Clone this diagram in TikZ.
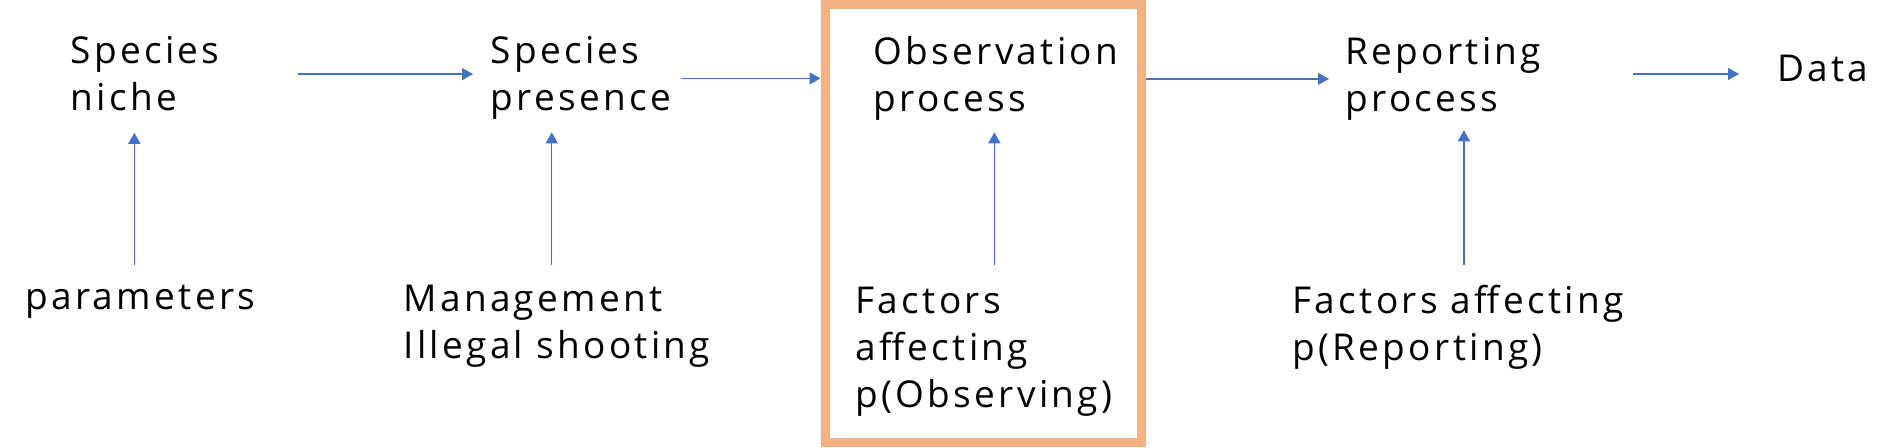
\documentclass[tikz,border=0pt]{standalone}
\usepackage{fontspec}
\setmainfont{Open Sans}[LetterSpace=9]
\usepackage{tikz}
\usetikzlibrary{arrows.meta}
\definecolor{flowblue}{HTML}{4472C4}
\definecolor{boxorange}{HTML}{F4B183}
\hyphenpenalty=10000
\exhyphenpenalty=10000

\begin{document}
\begin{tikzpicture}[x=0.5pt,y=-0.5pt,
    lbl/.style={inner sep=0pt, anchor=base west, align=left, font=\fontsize{18.5}{23.5}\selectfont},
    flow/.style={draw=flowblue, line width=0.65pt, -{Triangle[length=5.5pt,width=6pt]}}]
        \useasboundingbox (0,0) rectangle (1903,448);
        \node[draw=boxorange, line width=4.5pt, minimum width=158.25pt, minimum height=219.25pt, inner sep=0pt] (obsbox) at (983.25,223.75) {};
        \node[lbl, text width=74pt] (niche) at (70,64) {Species\\niche};
        \node[lbl, text width=89pt] (presence) at (490,64) {Species\\presence};
        \node[lbl, text width=123pt] (obs) at (873,65) {Observation\\process};
        \node[lbl, text width=99.5pt] (reporting) at (1345,65) {Reporting\\process};
        \node[lbl, text width=46pt, text height=8pt, text depth=0pt] (data) at (1777,82) {Data};
        \node[lbl] (params) at (25,310) {parameters};
        \node[lbl] (mgmt) at (403,359) {Management\\Illegal shooting};
        \node[lbl] (obsf) at (855,408) {Factors\\affecting\\p(Observing)};
        \node[lbl] (repf) at (1292,361) {Factors affecting\\p(Reporting)};
        \draw[flow, shorten <=39.5pt, shorten >=8.5pt] (niche.east) -- (niche.east -| presence.west);
        \draw[flow, shorten <=6pt] (presence.east) -- (presence.east -| obsbox.west);
        \draw[flow, shorten >=8pt] (obsbox.east |- obs.east) -- (obs.east -| reporting.west);
        \draw[flow, shorten <=44pt, shorten >=19pt] (reporting.east |- data.west) -- (data.west);
        \draw[flow, shorten <=10pt, shorten >=10.5pt] ([xshift=-3pt]params.north) -- ([xshift=-3pt]params.north |- niche.south);
        \draw[flow, shorten <=10pt, shorten >=6pt] ([xshift=-2.5pt]mgmt.north) -- ([xshift=-2.5pt]mgmt.north |- presence.south);
        \draw[flow, shorten <=11pt, shorten >=5.5pt] ([xshift=-1pt]obsf.north -| obs.south) -- ([xshift=-1pt]obs.south);
        \draw[flow, shorten <=10pt, shorten >=4.5pt] ([xshift=3pt]repf.north) -- ([xshift=3pt]repf.north |- reporting.south);
\end{tikzpicture}
\end{document}
